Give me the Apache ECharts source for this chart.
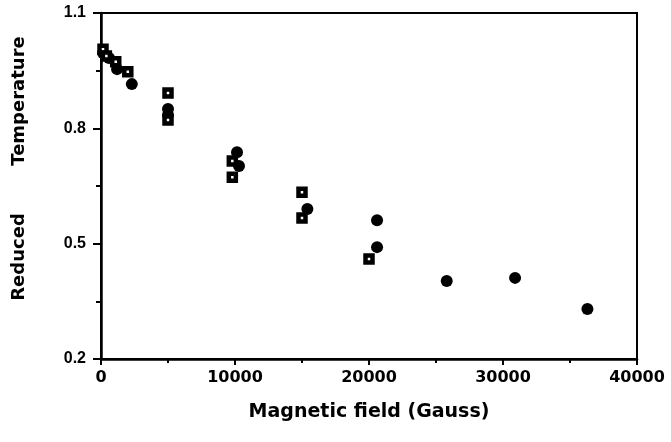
<!DOCTYPE html>
<html><head><meta charset="utf-8">
<script src="https://cdn.jsdelivr.net/npm/echarts@6/dist/echarts.min.js"></script>
<style>html,body{margin:0;padding:0;background:#fff}#c{width:671px;height:442px}</style>
</head><body><div id="c"></div>
<script>
// Open squares: [field (Gauss), reduced temperature]
const squareX = [150, 400, 1100, 2000, 5000, 5000, 9800, 9800, 15000, 15000, 20000];
const squareY = [1.006, 0.988, 0.973, 0.947, 0.892, 0.822, 0.715, 0.673, 0.634, 0.567, 0.460];
// Filled circles
const circleX = [150, 600, 1200, 2300, 5000, 5000, 10150, 10300, 15400, 20600, 20600, 25800, 30900, 36300];
const circleY = [0.996, 0.983, 0.954, 0.915, 0.850, 0.835, 0.738, 0.702, 0.590, 0.561, 0.491, 0.403, 0.411, 0.330];
const xTicks = [0, 10000, 20000, 30000, 40000];
const yTicks = [0.2, 0.5, 0.8, 1.1];
const xTitle = 'Magnetic field (Gauss)';
const yTitleA = 'Reduced';
const yTitleB = 'Temperature';

const squares = squareX.map((x, i) => [x, squareY[i]]);
const circles = circleX.map((x, i) => [x, circleY[i]]);
const font = '"Liberation Sans", Arial, sans-serif';
const heavy = '"DejaVu Sans", sans-serif';
const chart = echarts.init(document.getElementById('c'));
chart.setOption({
  animation: false,
  backgroundColor: '#fff',
  grid: {left: 101, top: 13, right: 34, bottom: 83, show: true, borderColor: '#000', borderWidth: 2},
  xAxis: {
    type: 'value', min: xTicks[0], max: xTicks[xTicks.length - 1], interval: 10000,
    name: xTitle, nameLocation: 'middle', nameGap: 44,
    nameTextStyle: {fontFamily: heavy, fontWeight: 'bold', fontSize: 19, color: '#000'},
    axisLine: {show: true, lineStyle: {color: '#000', width: 2.5}},
    axisTick: {show: true, length: 6, lineStyle: {color: '#000', width: 2}},
    minorTick: {show: true, splitNumber: 2, length: 4, lineStyle: {color: '#000', width: 2}},
    splitLine: {show: false},
    axisLabel: {fontFamily: heavy, fontWeight: 'bold', fontSize: 16, color: '#000', margin: 11,
      formatter: v => String(v)}
  },
  yAxis: {
    type: 'value', min: yTicks[0], max: yTicks[yTicks.length - 1], interval: 0.3,
    axisLine: {show: true, lineStyle: {color: '#000', width: 2.5}},
    axisTick: {show: true, length: 8, lineStyle: {color: '#000', width: 2}},
    minorTick: {show: true, splitNumber: 2, length: 5, lineStyle: {color: '#000', width: 2}},
    splitLine: {show: false},
    axisLabel: {fontFamily: font, fontWeight: 'bold', fontSize: 16, color: '#000', margin: 15,
      formatter: v => v.toFixed(1)}
  },
  graphic: [
    {type: 'text', x: 19, y: 101, rotation: Math.PI / 2,
     style: {text: yTitleB, font: 'bold 18px ' + heavy, fill: '#000', align: 'center', verticalAlign: 'middle'}},
    {type: 'text', x: 19, y: 257, rotation: Math.PI / 2,
     style: {text: yTitleA, font: 'bold 18px ' + heavy, fill: '#000', align: 'center', verticalAlign: 'middle'}}
  ],
  series: [
    {type: 'scatter', data: circles, symbol: 'circle', symbolSize: 12,
     itemStyle: {color: '#000', opacity: 1}},
    {type: 'scatter', data: squares, symbol: 'rect', symbolSize: 7,
     itemStyle: {color: '#fff', borderColor: '#000', borderWidth: 4.5, opacity: 1}}
  ]
});
</script></body></html>
